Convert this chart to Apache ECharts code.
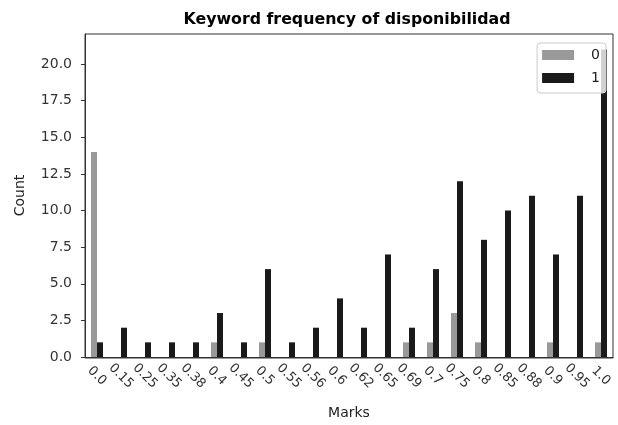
<!DOCTYPE html>
<html>
<head>
<meta charset="utf-8">
<script src="https://cdn.jsdelivr.net/npm/echarts@6/dist/echarts.min.js"></script>
<style>
  html, body { margin: 0; padding: 0; background: #fff; }
  #chart { width: 618px; height: 425px; }
</style>
</head>
<body>
<div id="chart"></div>
<script>
// Marks awarded, one group per mark
const marks = ['0.0', '0.15', '0.25', '0.35', '0.38', '0.4', '0.45', '0.5', '0.55', '0.56', '0.6',
  '0.62', '0.65', '0.69', '0.7', '0.75', '0.8', '0.85', '0.88', '0.9', '0.95', '1.0'];
// Count of answers without the keyword (0) and with it (1)
const countNo = [14, 0, 0, 0, 0, 1, 0, 1, 0, 0, 0, 0, 0, 1, 1, 3, 1, 0, 0, 1, 0, 1];
const countYes = [1, 2, 1, 1, 1, 3, 1, 6, 1, 2, 4, 2, 7, 2, 6, 12, 8, 10, 11, 7, 11, 21];
const yTicks = ['0.0', '2.5', '5.0', '7.5', '10.0', '12.5', '15.0', '17.5', '20.0'];

const font = 'DejaVu Sans';
const chart = echarts.init(document.getElementById('chart'));
chart.setOption({
  animation: false,
  title: {
    text: 'Keyword frequency of disponibilidad',
    left: 342, top: 7, textAlign: 'center',
    textStyle: { fontFamily: font, fontSize: 15.8, fontWeight: 'bold', color: '#000' }
  },
  legend: {
    right: 12, top: 43, orient: 'vertical',
    itemWidth: 32, itemHeight: 10, itemGap: 9,
    padding: [5, 6, 8, 5],
    icon: 'rect',
    backgroundColor: 'rgba(255,255,255,0.8)',
    borderColor: '#cccccc', borderWidth: 1, borderRadius: 3,
    textStyle: { fontFamily: font, fontSize: 14, color: '#222', padding: [0, 0, 0, 12] },
    data: ['0', '1']
  },
  grid: { left: 85, right: 5, top: 34, bottom: 67, containLabel: false },
  xAxis: {
    type: 'category',
    data: marks,
    name: 'Marks', nameLocation: 'middle', nameGap: 49,
    nameTextStyle: { fontFamily: font, fontSize: 14, color: '#222' },
    axisLine: { lineStyle: { color: '#333', width: 1 } },
    axisTick: { alignWithLabel: true, length: 4, lineStyle: { color: '#333' } },
    axisLabel: {
      rotate: -45, align: 'center', verticalAlign: 'middle',
      fontFamily: font, fontSize: 13, color: '#333', margin: 19, interval: 0
    },
    splitLine: { show: false }
  },
  yAxis: {
    type: 'value',
    min: 0, max: 22.05, interval: 2.5,
    name: 'Count', nameLocation: 'middle', nameGap: 58,
    nameTextStyle: { fontFamily: font, fontSize: 14, color: '#222' },
    axisLine: { show: true, lineStyle: { color: '#333', width: 1 } },
    axisTick: { show: true, length: 4, lineStyle: { color: '#333' } },
    axisLabel: {
      fontFamily: font, fontSize: 14, color: '#333', margin: 13,
      showMaxLabel: false,
      formatter: (v) => yTicks[Math.round(v / 2.5)] || ''
    },
    splitLine: { show: false }
  },
  series: [
    { name: '0', type: 'bar', data: countNo, barWidth: '25%', barGap: '0%',
      itemStyle: { color: '#999999' } },
    { name: '1', type: 'bar', data: countYes, barWidth: '25%', barGap: '0%',
      itemStyle: { color: '#1a1a1a' } }
  ],
  graphic: [{
    type: 'rect', silent: true, z: -1,
    shape: { x: 85, y: 34, width: 528, height: 324 },
    style: { fill: 'none', stroke: '#333', lineWidth: 1 }
  }]
});
</script>
</body>
</html>
